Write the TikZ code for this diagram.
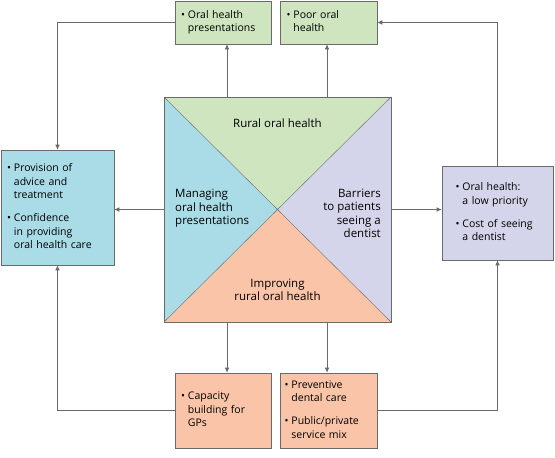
\documentclass[tikz,border=0pt]{standalone}
\usepackage{fontspec}
\setmainfont{Open Sans}
\usepackage{tikz}
\usetikzlibrary{positioning,calc,arrows.meta}

\definecolor{ohgreen}{HTML}{CFE5C0}
\definecolor{ohblue}{HTML}{A9DCE6}
\definecolor{ohlilac}{HTML}{D4D4EA}
\definecolor{ohsalmon}{HTML}{F9C4A8}
\definecolor{ohline}{HTML}{6A6A6A}

% bullet list inside a box
\newcommand{\bitem}[1]{\begin{tabular}[t]{@{}l@{\hspace{3pt}}l@{}}\textbullet & \begin{tabular}[t]{@{}l@{}}#1\end{tabular}\end{tabular}}

\tikzset{
  box/.style={draw=ohline, line width=0.6pt, align=left, inner sep=0pt,
              font=\fontsize{10.5}{13.3}\selectfont},
  link/.style={draw=ohline, line width=0.6pt, -{Latex[length=5pt,width=4.5pt]}},
  lbl/.style={font=\fontsize{11.5}{13.4}\selectfont, inner sep=0pt}
}

\begin{document}
\begin{tikzpicture}[x=1pt, y=-1pt]
  \useasboundingbox (0,0) rectangle (555,458);

  % central square
  \coordinate (sqNW) at (164,97);
  \coordinate (sqNE) at (391,97);
  \coordinate (sqSE) at (391,322);
  \coordinate (sqSW) at (164,322);
  \coordinate (sqC) at (277.5,209.5);
  \fill[ohgreen] (sqNW) -- (sqNE) -- (sqC) -- cycle;
  \fill[ohlilac] (sqNE) -- (sqSE) -- (sqC) -- cycle;
  \fill[ohsalmon] (sqSE) -- (sqSW) -- (sqC) -- cycle;
  \fill[ohblue] (sqSW) -- (sqNW) -- (sqC) -- cycle;
  \draw[ohline, line width=0.6pt] (sqNW) rectangle (sqSE);
  \draw[ohline, line width=0.4pt] (sqNW) -- (sqSE) (sqNE) -- (sqSW);

  \node[lbl] (rural) at (277.5,123.5) {Rural oral health};
  \node[lbl, align=left, anchor=west] (manage) at (175,208.5) {Managing\\oral health\\presentations};
  \node[lbl, align=right, anchor=east] (barr) at (381,213.5) {Barriers\\to patients\\seeing a\\dentist};
  \node[lbl, align=center] (improve) at (277.5,290) {Improving\\rural oral health};

  % outcome boxes
  \node[box, fill=ohgreen, minimum width=96pt, minimum height=43pt, text width=84pt]
    (ohp) at (223,22.5) {\bitem{Oral health\\presentations}};
  \node[box, fill=ohgreen, minimum width=97pt, minimum height=43pt, text width=84pt]
    (poor) at (328.5,22.5) {\bitem{Poor oral\\health}};
  \node[box, fill=ohblue, minimum width=113pt, minimum height=115pt, text width=101pt]
    (advice) at (57.5,207.5) {\bitem{Provision of\\advice and\\treatment}\\[9pt]
                                \bitem{Confidence\\in providing\\oral health care}};
  \node[box, fill=ohlilac, minimum width=111pt, minimum height=94pt, text width=84pt]
    (cost) at (497.5,213) {\bitem{Oral health:\\a low priority}\\[9pt]
                             \bitem{Cost of seeing\\a dentist}};
  \node[box, fill=ohsalmon, minimum width=96pt, minimum height=75pt, text width=84pt]
    (gps) at (223,410.5) {\bitem{Capacity\\building for\\GPs}};
  \node[box, fill=ohsalmon, minimum width=97pt, minimum height=75pt, text width=88pt]
    (prev) at (328.5,410.5) {\bitem{Preventive\\dental care}\\[9pt]
                               \bitem{Public/private\\service mix}};

  % arrows out of the square
  \coordinate (tA) at (227,97);
  \coordinate (tB) at (327,97);
  \coordinate (bA) at (227,322);
  \coordinate (bB) at (327,322);
  \coordinate (lM) at (164,209.5);
  \coordinate (rM) at (391,209.5);
  \draw[link] (tA) -- (tA |- ohp.south);
  \draw[link] (tB) -- (tB |- poor.south);
  \draw[link] (bA) -- (bA |- gps.north);
  \draw[link] (bB) -- (bB |- prev.north);
  \draw[link] (lM) -- (lM -| advice.east);
  \draw[link] (rM) -- (rM -| cost.west);

  % feedback loops
  \draw[link] (ohp.west) -| (advice.north);
  \draw[link] (gps.west) -| (advice.south);
  \draw[link] (cost.north) |- (poor.east);
  \draw[link] (prev.east) -| (cost.south);
\end{tikzpicture}
\end{document}
